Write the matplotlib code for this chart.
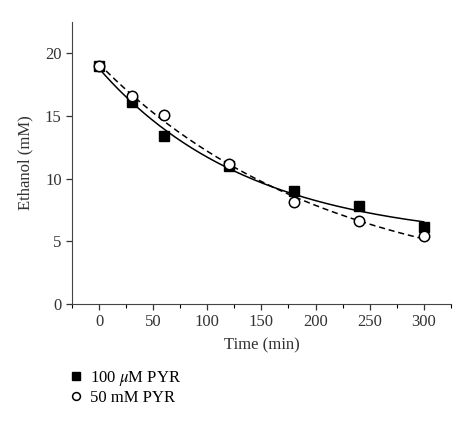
import numpy as np
import matplotlib.pyplot as plt

time_min = [0, 30, 60, 120, 180, 240, 300]
pyr_100uM = [19.0, 16.1, 13.4, 11.0, 9.0, 7.8, 6.1]
pyr_50mM = [19.0, 16.6, 15.1, 11.2, 8.1, 6.6, 5.4]


def exp_fit(t, y):
    # y = a*exp(-k t) + c, grid over k, linear lsq for a, c
    t = np.asarray(t, float)
    y = np.asarray(y, float)
    best = None
    for k in np.linspace(0.0005, 0.03, 600):
        A = np.column_stack([np.exp(-k * t), np.ones_like(t)])
        coef, res, _, _ = np.linalg.lstsq(A, y, rcond=None)
        err = np.sum((A @ coef - y) ** 2)
        if best is None or err < best[0]:
            best = (err, k, coef)
    _, k, (a, c) = best
    return lambda x: a * np.exp(-k * x) + c


plt.rcParams['font.family'] = ['Liberation Serif', 'DejaVu Serif']
plt.rcParams['mathtext.fontset'] = 'stix'

fig = plt.figure(figsize=(4.74, 4.25), dpi=100)
ax = fig.add_axes([0.152, 0.285, 0.799, 0.663])

tt = np.linspace(0, 300, 200)
f1 = exp_fit(time_min, pyr_100uM)
f2 = exp_fit(time_min, pyr_50mM)
ax.plot(tt, f1(tt), color='black', lw=1.1, zorder=2)
ax.plot(tt, f2(tt), color='black', lw=1.1, ls=(0, (4, 2.5)), zorder=2)

h1, = ax.plot(time_min, pyr_100uM, 's', color='black', ms=7,
              mec='black', zorder=3)
h2, = ax.plot(time_min, pyr_50mM, 'o', mfc='white', mec='black',
              mew=1.1, ms=7.5, zorder=4)

ax.set_xlim(-25, 325)
ax.set_ylim(0, 22.5)
ax.set_xticks([0, 50, 100, 150, 200, 250, 300])
ax.set_xticks(np.arange(-25, 326, 25), minor=True)
ax.set_yticks([0, 5, 10, 15, 20])
ax.spines['top'].set_visible(False)
ax.spines['right'].set_visible(False)
ax.spines['left'].set_color('#444444')
ax.spines['bottom'].set_color('#444444')
ax.tick_params(axis='both', direction='out', length=4, width=0.9,
               colors='#333333', labelsize=12)
ax.tick_params(axis='x', which='minor', length=3, width=0.8)
ax.set_xlabel('Time (min)', fontsize=12, color='#333333', labelpad=5)
ax.set_ylabel('Ethanol (mM)', fontsize=12, color='#333333', labelpad=8)

fig.legend([h1, h2], [r'100 $\mu$M PYR', '50 mM PYR'],
           loc='lower left', bbox_to_anchor=(0.113, 0.01),
           frameon=False, fontsize=12, handlelength=0.9,
           handletextpad=0.4, labelspacing=0.1, markerscale=0.75)

fig.savefig('out.png', dpi=100)
